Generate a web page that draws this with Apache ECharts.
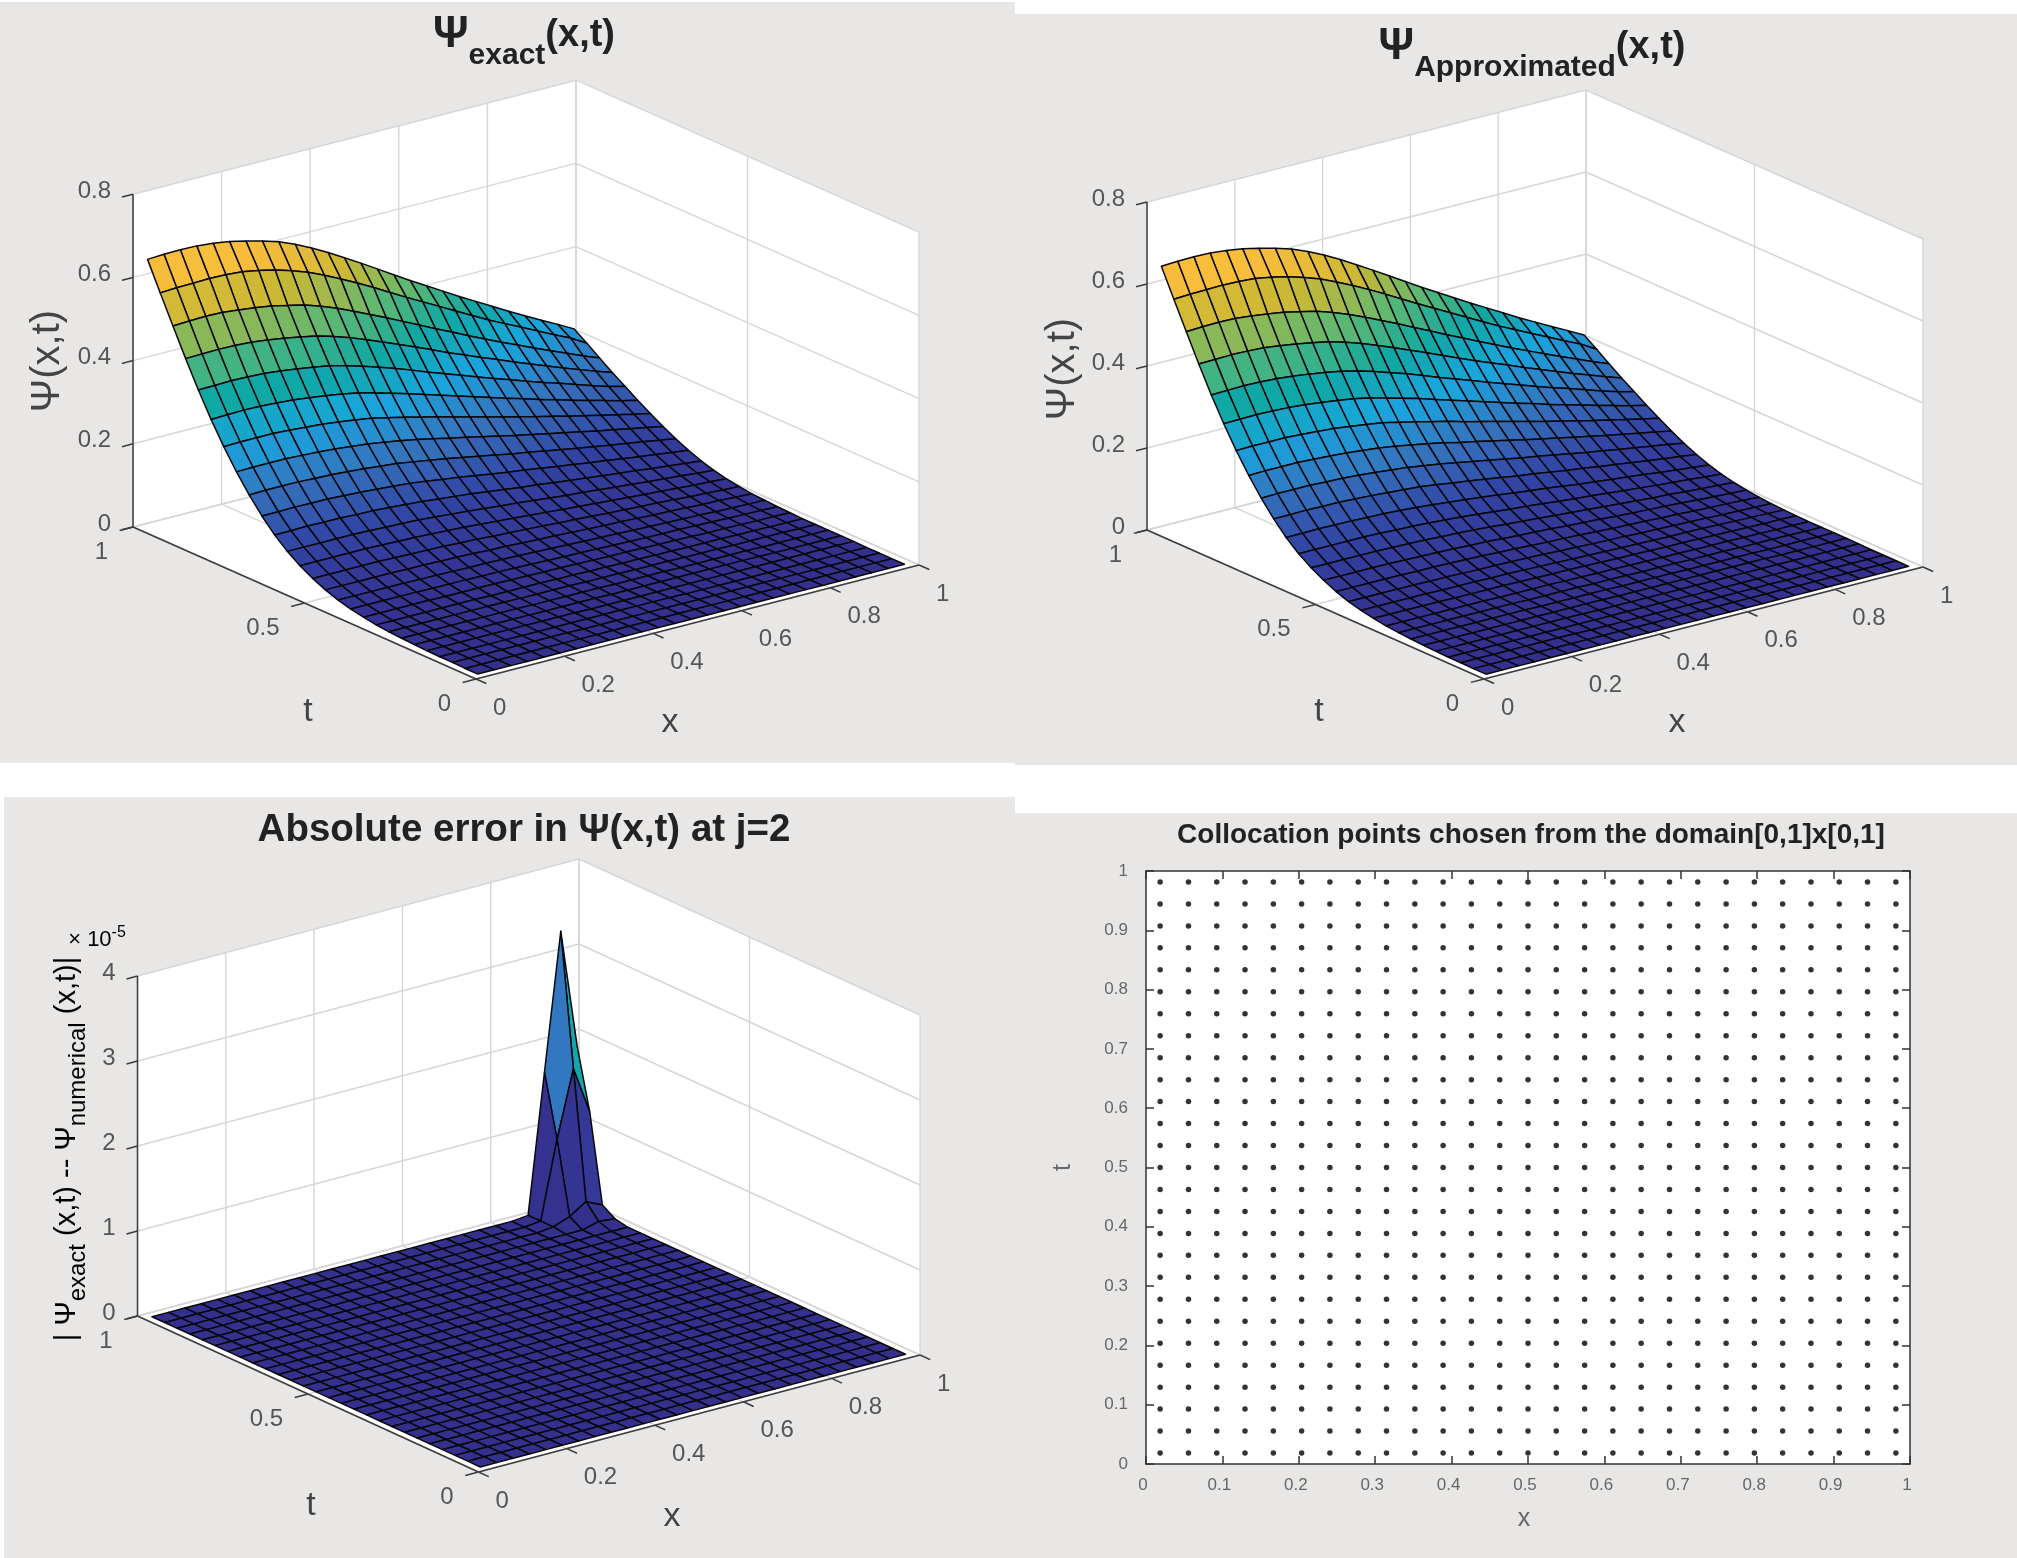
<!DOCTYPE html>
<html>
<head>
<meta charset="utf-8">
<style>
  html, body { margin: 0; padding: 0; background: #fff; }
  #main { width: 2017px; height: 1558px; }
</style>
<script src="https://cdn.jsdelivr.net/npm/echarts@6/dist/echarts.min.js"></script>
</head>
<body>
<div id="main"></div>
<script>
// collocation points, both directions
var collocX = [0.0185,0.0556,0.0926,0.1296,0.1667,0.2037,0.2407,0.2778,0.3148,0.3519,0.3889,0.4259,0.4630,0.5,0.5370,0.5741,0.6111,0.6481,0.6852,0.7222,0.7593,0.7963,0.8333,0.8704,0.9074,0.9444,0.9815];
var collocT = [0.0185,0.0556,0.0926,0.1296,0.1667,0.2037,0.2407,0.2778,0.3148,0.3519,0.3889,0.4259,0.4630,0.5,0.5370,0.5741,0.6111,0.6481,0.6852,0.7222,0.7593,0.7963,0.8333,0.8704,0.9074,0.9444,0.9815];

// psi(x,t), one row per t, one column per x
var psiGrid = [
[0,0,0,0,0,0,0,0,0,0,0,0,0,0,0,0,0,0,0,0,0,0,0,0,0,0,0],
[0,0,0,0,0,0,0,0,0,0,0,0,0,0,0,0,0,0,0,0,0,0,0,0,0,0,0],
[.001,.001,.001,.001,.001,.001,.001,.001,0,0,0,0,0,0,0,0,0,0,0,0,0,0,0,0,0,0,0],
[.001,.001,.001,.001,.001,.001,.001,.001,.001,.001,.001,.001,.001,.001,.001,0,0,0,0,0,0,0,0,0,0,0,0],
[.002,.002,.002,.002,.002,.002,.002,.002,.002,.002,.001,.001,.001,.001,.001,.001,.001,.001,.001,.001,.001,.001,.001,.001,.001,.001,.001],
[.003,.003,.003,.003,.003,.003,.003,.003,.003,.003,.003,.003,.002,.002,.002,.002,.002,.002,.002,.002,.002,.002,.001,.001,.001,.001,.001],
[.005,.005,.005,.005,.005,.005,.005,.005,.004,.004,.004,.004,.004,.003,.003,.003,.003,.002,.002,.002,.002,.002,.001,.001,.001,.001,.001],
[.007,.007,.007,.007,.007,.007,.007,.007,.006,.006,.006,.006,.005,.005,.005,.004,.004,.004,.003,.003,.003,.002,.002,.002,.002,.001,.001],
[.010,.010,.010,.010,.010,.010,.010,.009,.009,.009,.009,.008,.008,.007,.007,.006,.006,.005,.005,.004,.004,.004,.003,.003,.002,.002,.001],
[.015,.015,.015,.015,.015,.014,.014,.014,.014,.013,.013,.012,.012,.011,.010,.009,.009,.008,.007,.007,.006,.005,.005,.004,.003,.003,.002],
[.021,.021,.021,.021,.021,.020,.020,.020,.019,.019,.018,.017,.016,.015,.014,.013,.012,.011,.010,.009,.009,.008,.007,.006,.005,.004,.003],
[.029,.029,.029,.029,.029,.028,.028,.027,.026,.026,.025,.024,.023,.021,.020,.018,.017,.016,.014,.013,.012,.011,.010,.008,.007,.006,.005],
[.040,.040,.040,.040,.040,.039,.039,.038,.037,.036,.034,.033,.031,.029,.028,.026,.024,.022,.021,.019,.017,.016,.014,.012,.011,.009,.007],
[.054,.054,.054,.054,.054,.053,.052,.051,.050,.048,.047,.044,.042,.040,.038,.035,.033,.031,.028,.026,.024,.022,.020,.017,.015,.013,.011],
[.071,.071,.071,.071,.071,.070,.069,.068,.066,.064,.062,.059,.056,.053,.050,.047,.044,.041,.038,.035,.032,.029,.027,.024,.021,.019,.016],
[.092,.092,.092,.092,.092,.091,.089,.088,.086,.083,.080,.077,.073,.069,.066,.062,.058,.054,.051,.047,.043,.040,.036,.033,.030,.026,.023],
[.118,.118,.119,.118,.118,.116,.115,.113,.110,.107,.103,.099,.095,.090,.085,.080,.076,.071,.066,.062,.057,.053,.049,.044,.040,.036,.032],
[.150,.150,.151,.150,.150,.148,.146,.143,.140,.137,.132,.126,.121,.115,.109,.103,.098,.092,.086,.081,.075,.070,.064,.059,.054,.049,.044],
[.187,.188,.188,.188,.186,.185,.182,.179,.175,.171,.165,.159,.152,.145,.138,.131,.123,.117,.110,.103,.096,.090,.083,.077,.071,.065,.058],
[.229,.230,.230,.230,.228,.226,.223,.219,.215,.209,.202,.195,.187,.178,.170,.161,.153,.144,.136,.128,.120,.112,.104,.097,.089,.082,.074],
[.276,.277,.277,.277,.275,.272,.269,.264,.259,.253,.244,.235,.225,.216,.205,.195,.185,.175,.165,.155,.146,.136,.127,.118,.109,.100,.092],
[.328,.329,.330,.329,.327,.324,.319,.314,.308,.300,.290,.279,.268,.256,.244,.232,.220,.208,.196,.185,.173,.162,.151,.140,.130,.119,.110],
[.385,.386,.387,.386,.384,.380,.375,.369,.362,.352,.341,.328,.315,.301,.286,.272,.258,.244,.230,.217,.203,.190,.178,.165,.152,.140,.130],
[.447,.448,.449,.448,.446,.441,.435,.428,.420,.409,.396,.381,.365,.349,.333,.316,.299,.283,.267,.252,.236,.221,.206,.191,.177,.163,.150],
[.512,.514,.515,.514,.510,.505,.499,.490,.481,.468,.453,.436,.418,.400,.381,.362,.343,.325,.306,.288,.270,.253,.236,.219,.203,.186,.171],
[.578,.580,.581,.582,.581,.578,.571,.562,.550,.536,.519,.500,.480,.459,.437,.415,.394,.373,.352,.331,.310,.291,.272,.253,.234,.216,.193],
[.645,.647,.648,.647,.643,.637,.628,.618,.606,.590,.571,.550,.527,.504,.480,.456,.432,.409,.386,.363,.341,.319,.297,.276,.255,.235,.214]
];

// absolute error x 1e-5: zero everywhere but these [column, row, value] nodes
var errorSpikes = [[25,26,3.26],[24,26,1.65],[26,26,1.86],[25,25,1.71],[24,25,0.93],[26,25,1.15],[25,24,0.215],[24,24,0.09],[26,24,0.125],[23,24,0.02],[25,23,0.05],[26,23,0.03],[23,25,0.02],[23,26,0.02]];

var xTicks = [0,0.2,0.4,0.6,0.8,1];
var tTicks = [0,0.5,1];
var psiZTicks = [0,0.2,0.4,0.6,0.8];
var errorZTicks = [0,1,2,3,4];

var parulaStops = ['#35308e','#3243a3','#3572bc','#1aa5de','#10a8a4','#5bb873','#c9b834','#f7bc3c','#f9e020'];

var errorGrid = collocT.map(function () { return collocX.map(function () { return 0; }); });
errorSpikes.forEach(function (s) { errorGrid[s[1]][s[0]] = s[2]; });

var FONT = '"Liberation Sans", Arial, sans-serif';
var GREY = '#555555';

// screen directions of the three data axes for each 3d panel
var views = [
	{ origin: [476, 679], ex: [443, -114], et: [-343, -152], ez: 416, zTicks: psiZTicks, grid: psiGrid },
	{ origin: [1484, 679], ex: [439, -112], et: [-337, -149], ez: 410, zTicks: psiZTicks, grid: psiGrid },
	{ origin: [478.5, 1472], ex: [441.5, -117], et: [-341, -156], ez: 85, zTicks: errorZTicks, grid: errorGrid }
];

function vMax(v) {
	return -v.ex[1] - v.et[1] + v.ez * v.zTicks[v.zTicks.length - 1];
}

function project(api, v, x, t, z) {
	return api.coord([x * v.ex[0] + t * v.et[0], -x * v.ex[1] - t * v.et[1] + z * v.ez]);
}

function frameItem(v) {
	return function (params, api) {
		var zTop = v.zTicks[v.zTicks.length - 1];
		var kids = [];
		function wall(a) {
			kids.push({ type: 'polygon', shape: { points: a.map(function (p) { return project(api, v, p[0], p[1], p[2]); }) }, style: { fill: '#fff' } });
		}
		function seg(a, b, color, w) {
			var p = project(api, v, a[0], a[1], a[2]), q = project(api, v, b[0], b[1], b[2]);
			kids.push({ type: 'line', shape: { x1: p[0], y1: p[1], x2: q[0], y2: q[1] }, style: { stroke: color, lineWidth: w } });
		}
		function label(a, dx, dy, text, align) {
			var p = project(api, v, a[0], a[1], a[2]);
			kids.push({ type: 'text', x: p[0] + dx, y: p[1] + dy, style: { text: text, align: align, verticalAlign: 'middle', fontFamily: FONT, fontSize: 24, fill: GREY } });
		}
		wall([[0, 0, 0], [1, 0, 0], [1, 1, 0], [0, 1, 0]]);
		wall([[0, 1, 0], [1, 1, 0], [1, 1, zTop], [0, 1, zTop]]);
		wall([[1, 0, 0], [1, 1, 0], [1, 1, zTop], [1, 0, zTop]]);

		var LIGHT = '#d6d6d6';
		xTicks.forEach(function (x) {
			seg([x, 0, 0], [x, 1, 0], LIGHT, 1.4);
			seg([x, 1, 0], [x, 1, zTop], LIGHT, 1.4);
		});
		tTicks.forEach(function (t) {
			seg([0, t, 0], [1, t, 0], LIGHT, 1.4);
			seg([1, t, 0], [1, t, zTop], LIGHT, 1.4);
		});
		v.zTicks.forEach(function (z) {
			seg([0, 1, z], [1, 1, z], LIGHT, 1.4);
			seg([1, 1, z], [1, 0, z], LIGHT, 1.4);
		});

		var DARK = '#3c3c3c';
		seg([0, 1, 0], [0, 1, zTop], DARK, 1.5);
		seg([0, 0, 0], [0, 1, 0], DARK, 1.5);
		seg([0, 0, 0], [1, 0, 0], DARK, 1.5);
		v.zTicks.forEach(function (z) {
			seg([0, 1, z], [-0.025, 1, z], DARK, 1.5);
			label([0, 1, z], -22, -3, String(z), 'right');
		});
		xTicks.forEach(function (x) {
			seg([x, 0, 0], [x, -0.03, 0], DARK, 1.5);
			label([x, 0, 0], 17, 29, String(x), 'left');
		});
		tTicks.forEach(function (t) {
			seg([0, t, 0], [-0.03, t, 0], DARK, 1.5);
			label([0, t, 0], -25, 25, String(t), 'right');
		});
		return { type: 'group', children: kids };
	};
}

function surfaceItem(v) {
	return function (params, api) {
		var i = api.value(0), j = api.value(1), g = v.grid;
		var pts = [
			project(api, v, collocX[i], collocT[j], g[j][i]),
			project(api, v, collocX[i + 1], collocT[j], g[j][i + 1]),
			project(api, v, collocX[i + 1], collocT[j + 1], g[j + 1][i + 1]),
			project(api, v, collocX[i], collocT[j + 1], g[j + 1][i])
		];
		return { type: 'polygon', shape: { points: pts }, style: { fill: api.visual('color'), stroke: '#08080c', lineWidth: 1.5, lineJoin: 'round' } };
	};
}

// far cells first so near ones paint over them; a cell takes the colour of its lowest corner index
function surfaceCells(v) {
	var out = [];
	for (var j = collocT.length - 2; j >= 0; j--) {
		for (var i = collocX.length - 2; i >= 0; i--) {
			out.push([i, j, v.grid[j][i]]);
		}
	}
	return out;
}

var grids = [], xAxes = [], yAxes = [], series = [];
views.forEach(function (v, n) {
	grids.push({ left: v.origin[0] + v.et[0], top: v.origin[1] - vMax(v), width: v.ex[0] - v.et[0], height: vMax(v) });
	xAxes.push({ gridIndex: n, type: 'value', min: v.et[0], max: v.ex[0], show: false });
	yAxes.push({ gridIndex: n, type: 'value', min: 0, max: vMax(v), show: false });
	series.push({ type: 'custom', xAxisIndex: n, yAxisIndex: n, silent: true, animation: false, data: [[0, 0]], renderItem: frameItem(v) });
	series.push({ type: 'custom', xAxisIndex: n, yAxisIndex: n, silent: true, animation: false, progressive: 0, data: surfaceCells(v), renderItem: surfaceItem(v) });
});

// collocation panel
var scatterData = [];
collocT.forEach(function (t) { collocX.forEach(function (x) { scatterData.push([x, t]); }); });
var axisColor = '#333';
function flatAxis(extra) {
	var a = {
		gridIndex: 3, type: 'value', min: 0, max: 1, interval: 0.1,
		splitLine: { show: false },
		axisLine: { show: true, onZero: false, lineStyle: { color: axisColor, width: 1.5 } },
		axisTick: { show: true, inside: true, length: 8, lineStyle: { color: axisColor, width: 1.5 } },
		axisLabel: { show: false }
	};
	for (var k in extra) a[k] = extra[k];
	return a;
}
grids.push({ show: true, backgroundColor: '#fff', borderWidth: 0, left: 1146, top: 871, width: 764, height: 593 });
xAxes.push(flatAxis({ position: 'bottom', axisLabel: { show: true, margin: 13, padding: [0, 6, 0, 0], fontFamily: FONT, fontSize: 17, color: '#666' },
	name: 'x', nameLocation: 'middle', nameGap: 43, nameTextStyle: { fontFamily: FONT, fontSize: 25, color: '#666', padding: [0, 8, 0, 0] } }));
yAxes.push(flatAxis({ position: 'left', axisLabel: { show: true, margin: 18, padding: [0, 0, 14, 0], fontFamily: FONT, fontSize: 17, color: '#666' },
	name: 't', nameLocation: 'middle', nameGap: 70, nameTextStyle: { fontFamily: FONT, fontSize: 25, color: '#666' } }));
xAxes.push(flatAxis({ position: 'top' }));
yAxes.push(flatAxis({ position: 'right' }));
series.push({ type: 'scatter', xAxisIndex: 3, yAxisIndex: 3, symbolSize: 5.5, silent: true, animation: false, itemStyle: { color: '#000' }, data: scatterData });

var titleRich = {
	p: { fontFamily: FONT, fontWeight: 'bold', fontSize: 44, lineHeight: 44, verticalAlign: 'top', color: '#222' },
	m: { fontFamily: FONT, fontWeight: 'bold', fontSize: 38, lineHeight: 40, verticalAlign: 'top', padding: [4, 0, 0, 0], color: '#222' },
	s: { fontFamily: FONT, fontWeight: 'bold', fontSize: 30, lineHeight: 32, verticalAlign: 'top', padding: [28, 0, 0, 0], color: '#222' }
};
var labelRich = {
	m: { fontFamily: FONT, fontSize: 29, lineHeight: 32, verticalAlign: 'top', color: '#444' },
	s: { fontFamily: FONT, fontSize: 24, lineHeight: 26, verticalAlign: 'top', padding: [14, 0, 0, 0], color: '#444' }
};

function nameText(x, y, text, rot, size) {
	return { type: 'text', x: x, y: y, rotation: rot || 0, silent: true, style: { text: text, fontFamily: FONT, fontSize: size || 34, fill: '#444', align: 'center', verticalAlign: 'middle' } };
}

var bg = '#e8e7e6';
function panelRect(x, y, w, h) {
	return { type: 'rect', z: -10, silent: true, shape: { x: x, y: y, width: w, height: h }, style: { fill: bg } };
}

var option = {
	animation: false,
	backgroundColor: '#fff',
	title: [
		{ text: '{p|Ψ}{s|exact}{m|(x,t)}', left: 519, top: 8, textAlign: 'center', textStyle: { rich: titleRich } },
		{ text: '{p|Ψ}{s|Approximated}{m|(x,t)}', left: 1527, top: 20, textAlign: 'center', textStyle: { rich: titleRich } },
		{ text: 'Absolute error in Ψ(x,t) at j=2', left: 519, top: 806, textAlign: 'center', textStyle: { fontFamily: FONT, fontWeight: 'bold', fontSize: 38.5, color: '#222' } },
		{ text: 'Collocation points chosen from the domain[0,1]x[0,1]', left: 1526, top: 816, textAlign: 'center', textStyle: { fontFamily: FONT, fontWeight: 'bold', fontSize: 28, color: '#222' } }
	],
	grid: grids,
	xAxis: xAxes,
	yAxis: yAxes,
	visualMap: [
		{ show: false, seriesIndex: [1, 3], dimension: 2, min: 0, max: 0.66, inRange: { color: parulaStops } },
		{ show: false, seriesIndex: 5, dimension: 2, min: 0, max: 3.5, inRange: { color: parulaStops } }
	],
	graphic: [
		panelRect(0, 2, 1015, 761),
		panelRect(1015, 14, 1002, 751),
		panelRect(4, 797, 1011, 761),
		panelRect(1015, 813, 1002, 745),
		nameText(308, 712, 't'),
		nameText(670, 723, 'x'),
		nameText(48, 361, 'Ψ(x,t)', Math.PI / 2, 40),
		nameText(1319, 712, 't'),
		nameText(1677, 723, 'x'),
		nameText(1063, 369, 'Ψ(x,t)', Math.PI / 2, 40),
		nameText(311, 1506, 't'),
		nameText(672, 1517, 'x'),
		{ type: 'text', x: 68, y: 1149, rotation: Math.PI / 2, silent: true, style: {
			text: '{m|| Ψ}{s|exact}{m| (x,t) -- Ψ}{s|numerical}{m| (x,t)|}', rich: labelRich, align: 'center', verticalAlign: 'middle' } },
		{ type: 'text', x: 97, y: 938, silent: true, style: {
			text: '{a|× 10}{b|-5}', align: 'center', verticalAlign: 'middle',
			rich: { a: { fontFamily: FONT, fontSize: 22, lineHeight: 26, verticalAlign: 'bottom', color: GREY }, b: { fontFamily: FONT, fontSize: 16, lineHeight: 26, verticalAlign: 'top', color: GREY } } } }
	],
	series: series
};

var myChart = echarts.init(document.getElementById('main'), null, { renderer: 'canvas' });
myChart.setOption(option);
</script>
</body>
</html>
